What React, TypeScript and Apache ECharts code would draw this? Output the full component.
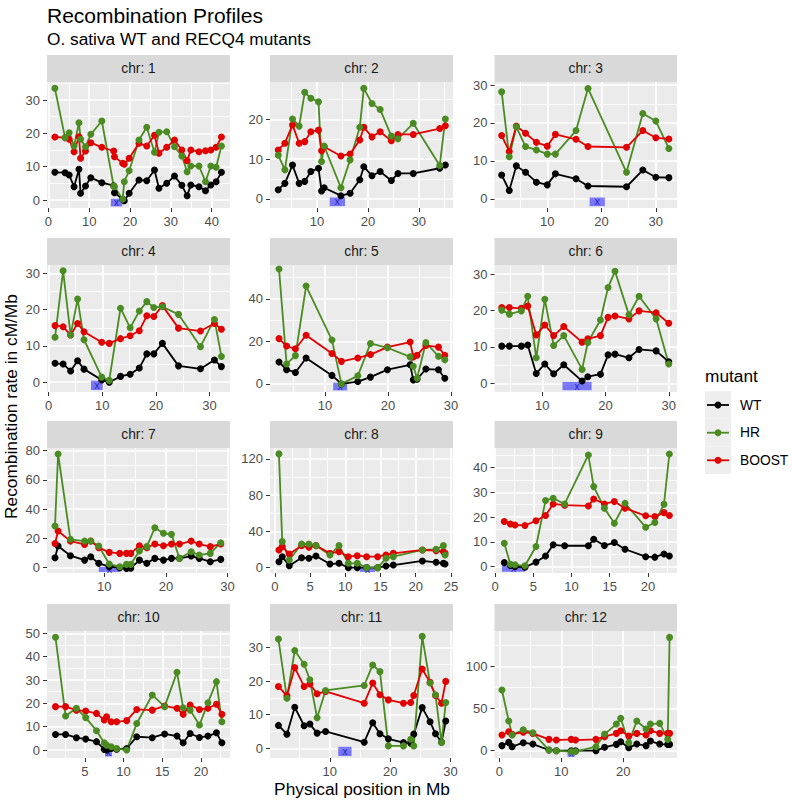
import React, { useEffect, useRef } from "react";
import * as echarts from "echarts";

// ---------- data ----------
const chromosomeLabels = ["chr: 1", "chr: 2", "chr: 3", "chr: 4", "chr: 5", "chr: 6", "chr: 7", "chr: 8", "chr: 9", "chr: 10", "chr: 11", "chr: 12"];
const mutants = ["WT", "HR", "BOOST"];

const chr1Pos = [1.6, 4.1, 5.1, 6.3, 7.5, 7.9, 9.1, 10.4, 13.1, 16.0, 16.2, 18.2, 18.6, 19.8, 22.2, 24.1, 26.0, 27.1, 29.0, 30.9, 32.7, 34.0, 34.9, 36.9, 38.5, 39.8, 41.1, 42.4];
const chr1WT = [8.3, 8.2, 7.5, 4.0, 9.2, 2.0, 4.2, 6.7, 5.2, 4.3, 2.2, 0.2, -0.2, 2.0, 6.0, 5.8, 9.0, 3.5, 5.0, 7.2, 4.4, 1.3, 4.5, 4.0, 2.8, 4.5, 5.5, 8.3];
const chr1HR = [33.5, 18.7, 20.2, 16.2, 23.2, 18.2, 16.0, 19.7, 23.7, 4.2, 4.0, 0.2, 5.5, 8.8, 18.0, 21.8, 14.3, 20.3, 20.5, 16.0, 13.2, 8.5, 10.2, 10.2, 5.5, 10.2, 9.8, 16.2];
const chr1BOOST = [18.9, 18.7, 18.2, 14.5, 19.0, 12.5, 14.7, 17.2, 15.8, 14.7, 13.0, 11.0, 10.7, 12.5, 17.0, 16.2, 19.4, 14.0, 15.8, 18.0, 15.0, 11.8, 15.0, 14.5, 14.8, 15.0, 15.8, 18.9];

const chr2Pos = [2.4, 3.7, 5.2, 6.5, 7.6, 8.8, 10.3, 10.9, 11.4, 14.7, 16.5, 18.4, 19.2, 20.8, 22.4, 24.6, 25.9, 28.9, 34.1, 35.2];
const chr2WT = [2.3, 3.9, 8.5, 3.9, 4.4, 6.9, 7.7, 2.0, 2.8, 0.8, 1.4, 4.8, 8.1, 5.8, 6.9, 4.6, 6.4, 6.4, 7.7, 8.5];
const chr2HR = [11.0, 7.3, 20.1, 18.3, 26.8, 25.3, 24.4, 9.4, 13.3, 2.8, 9.8, 18.0, 27.8, 24.0, 22.5, 15.8, 15.1, 19.0, 8.4, 20.1];
const chr2BOOST = [12.3, 14.0, 18.6, 14.0, 14.4, 16.9, 17.3, 12.1, 13.1, 10.8, 11.3, 14.8, 18.0, 15.6, 16.9, 14.6, 16.2, 16.2, 17.7, 18.4];

const chr3Pos = [1.6, 3.0, 4.3, 6.0, 8.0, 10.0, 11.5, 15.3, 17.5, 24.6, 27.6, 30.0, 32.4];
const chr3WT = [6.3, 2.2, 8.7, 7.0, 4.4, 3.7, 6.6, 5.3, 3.4, 3.2, 7.6, 5.7, 5.6];
const chr3HR = [28.2, 11.1, 19.0, 13.8, 12.9, 11.8, 11.8, 18.0, 29.1, 7.0, 22.5, 20.5, 13.3];
const chr3BOOST = [16.7, 12.5, 19.2, 17.3, 14.9, 13.9, 17.0, 15.7, 13.8, 13.6, 18.0, 16.1, 15.8];

const chr4Pos = [1.2, 2.7, 4.1, 5.4, 6.6, 9.9, 11.3, 13.4, 15.2, 16.9, 18.3, 19.6, 21.2, 24.2, 28.3, 30.9, 32.2];
const chr4WT = [5.2, 5.0, 3.1, 5.9, 3.6, 0.6, 0.0, 1.6, 2.2, 3.9, 7.8, 7.8, 10.7, 4.5, 3.7, 6.1, 4.3];
const chr4HR = [12.4, 30.7, 13.0, 22.9, 11.7, 1.4, 0.5, 20.4, 15.0, 19.6, 22.2, 20.6, 20.8, 18.7, 9.8, 17.3, 7.1];
const chr4BOOST = [15.6, 15.3, 13.0, 16.2, 13.9, 11.0, 10.7, 12.0, 12.8, 14.2, 18.3, 18.1, 21.1, 14.9, 14.1, 16.2, 14.6];

const chr5Pos = [2.7, 3.9, 5.3, 7.0, 11.1, 12.6, 15.2, 17.2, 19.9, 23.5, 24.0, 24.6, 26.0, 28.0, 29.0];
const chr5WT = [10.3, 6.7, 5.4, 12.2, 4.0, 0.0, 1.1, 3.2, 6.7, 9.0, 1.9, 2.2, 7.0, 6.7, 2.7];
const chr5HR = [54.0, 9.4, 13.3, 46.0, 20.6, 0.0, 3.8, 19.0, 17.0, 12.7, 8.3, 2.7, 19.4, 13.0, 11.4];
const chr5BOOST = [21.3, 17.8, 16.5, 22.9, 14.3, 10.6, 12.2, 13.8, 17.3, 19.7, 12.7, 13.5, 18.1, 17.3, 13.5];

const chr6Pos = [3.6, 4.8, 6.7, 7.7, 9.05, 10.4, 11.8, 13.4, 16.3, 17.2, 19.2, 20.4, 21.5, 23.7, 25.3, 28.0, 30.0];
const chr6WT = [10.2, 10.2, 10.2, 10.5, 2.7, 5.3, 2.6, 5.1, 0.6, 1.8, 2.5, 7.8, 8.0, 7.0, 9.3, 8.9, 5.9];
const chr6HR = [20.1, 19.0, 19.9, 23.9, 7.0, 23.1, 10.4, 13.1, 3.8, 11.2, 17.4, 26.3, 30.8, 18.8, 23.9, 17.7, 5.3];
const chr6BOOST = [20.8, 20.8, 20.6, 21.2, 13.3, 16.0, 13.1, 15.6, 11.3, 12.2, 13.1, 18.1, 18.5, 17.7, 19.9, 19.4, 16.5];

const chr7Pos = [2.0, 2.5, 4.5, 6.8, 7.8, 9.1, 10.8, 12.5, 13.6, 14.3, 15.7, 16.9, 18.2, 19.6, 20.9, 22.2, 24.1, 25.4, 27.2, 28.9];
const chr7WT = [6.8, 14.8, 8.2, 5.2, 7.5, 3.0, 0.7, 0.0, -0.5, -0.3, 5.2, 3.0, 6.4, 5.2, 6.4, 6.4, 8.0, 6.4, 4.1, 5.7];
const chr7HR = [28.5, 77.7, 19.4, 18.2, 18.2, 14.8, 2.5, 0.7, 2.3, 2.3, 11.4, 14.4, 27.3, 23.5, 22.8, 6.4, 10.9, 8.7, 9.8, 17.1];
const chr7BOOST = [16.6, 25.1, 18.2, 15.9, 18.2, 13.7, 10.5, 9.8, 9.8, 9.8, 15.0, 13.7, 16.2, 15.0, 16.2, 16.2, 18.2, 16.2, 14.4, 16.2];

const chr8Pos = [0.57, 1.04, 2.04, 3.79, 4.83, 5.83, 7.82, 9.1, 10.43, 11.7, 13.03, 14.6, 15.78, 16.82, 20.95, 22.9, 23.93, 24.17];
const chr8WT = [6.6, 12.1, 2.2, 11.0, 10.3, 12.9, 4.0, 4.8, 0.0, 0.0, 0.0, 0.0, 1.8, 2.9, 7.4, 5.9, 4.8, 4.0];
const chr8HR = [125.5, 28.7, 8.5, 26.1, 26.1, 24.3, 14.0, 24.3, 4.8, 4.8, 0.0, 0.0, 10.3, 12.1, 19.5, 20.2, 24.3, 14.0];
const chr8BOOST = [19.5, 23.2, 15.1, 24.3, 22.5, 24.3, 15.8, 17.7, 12.1, 13.2, 12.1, 12.1, 14.0, 15.8, 19.5, 18.8, 17.7, 15.8];

const chr9Pos = [1.2, 2.0, 2.6, 3.9, 5.35, 6.6, 7.6, 9.1, 12.2, 12.9, 14.3, 15.6, 17.0, 19.7, 20.9, 22.1, 22.8];
const chr9WT = [1.6, 0.4, 0.0, -0.3, 1.8, 4.3, 8.8, 8.4, 8.4, 11.0, 8.5, 9.7, 7.0, 4.0, 3.8, 5.1, 4.3];
const chr9HR = [9.4, 0.9, 0.7, 0.3, 8.1, 26.7, 27.6, 25.3, 45.1, 32.3, 23.6, 17.5, 25.6, 15.9, 17.8, 25.2, 45.5];
const chr9BOOST = [18.2, 17.2, 16.8, 16.6, 18.5, 20.6, 25.3, 24.8, 24.5, 27.3, 25.3, 26.3, 23.6, 20.5, 20.2, 21.8, 20.6];

const chr10Pos = [1.2, 2.5, 3.9, 5.1, 6.5, 7.5, 7.8, 8.4, 9.1, 10.4, 11.7, 13.7, 15.3, 16.9, 17.7, 18.6, 19.8, 20.9, 22.0, 22.7];
const chr10WT = [6.7, 6.7, 5.3, 4.7, 3.6, 0.3, 0.0, 0.7, 0.4, 0.7, 5.7, 5.3, 6.9, 6.0, 3.1, 7.1, 5.4, 6.0, 7.4, 3.1];
const chr10HR = [48.3, 14.6, 17.9, 13.9, 8.3, 3.1, 2.1, 1.4, 0.7, 0.0, 11.4, 23.6, 18.6, 33.3, 18.1, 17.1, 10.7, 20.3, 29.3, 12.1];
const chr10BOOST = [18.6, 18.6, 17.1, 16.7, 15.7, 12.9, 14.3, 12.1, 12.1, 12.6, 17.4, 17.1, 18.9, 17.9, 15.3, 19.3, 17.4, 17.9, 19.6, 15.3];

const chr11Pos = [1.5, 2.9, 4.2, 5.75, 6.7, 7.9, 9.3, 15.7, 17.1, 18.3, 19.7, 22.2, 23.4, 23.9, 25.3, 26.6, 27.5, 28.5, 29.2];
const chr11WT = [6.8, 4.2, 12.2, 6.7, 7.2, 4.5, 5.0, 1.8, 7.6, 4.3, 2.8, 1.7, 1.5, 4.2, 12.1, 7.9, 4.3, 1.8, 8.1];
const chr11HR = [32.5, 14.9, 29.1, 25.0, 20.4, 9.1, 17.2, 18.7, 24.8, 22.8, 0.7, 0.7, 2.7, 0.7, 33.3, 19.4, 15.9, 1.7, 13.6];
const chr11BOOST = [18.4, 15.6, 24.0, 18.4, 19.1, 16.2, 16.9, 13.4, 19.4, 15.9, 14.4, 13.4, 13.6, 15.7, 23.6, 19.6, 15.7, 13.4, 19.9];

const chr12Pos = [0.4, 1.5, 2.05, 3.85, 5.4, 8.0, 9.2, 11.6, 12.3, 15.6, 17.0, 18.9, 19.6, 20.9, 22.2, 23.7, 24.4, 25.9, 27.2, 27.5];
const chr12WT = [6.0, 9.9, 4.8, 9.5, 7.9, 0.8, 0.0, 0.0, 0.0, 0.0, 4.0, 7.5, 10.7, 3.6, 7.9, 6.0, 11.5, 7.9, 7.5, 7.5];
const chr12HR = [72.2, 35.3, 18.7, 25.0, 21.4, 0.8, 0.0, -1.0, -1.0, 4.8, 19.8, 31.7, 38.5, 9.5, 35.3, 25.8, 31.7, 32.5, 13.5, 134.9];
const chr12BOOST = [18.7, 22.6, 19.4, 22.0, 20.6, 13.5, 12.7, 13.5, 12.7, 13.5, 16.7, 20.6, 23.8, 17.5, 20.6, 18.7, 23.8, 20.6, 20.6, 20.6];

// centromere spans (Mb)
const centromereStart = [15.3, 12.5, 17.8, 7.9, 11.3, 13.2, 9.1, 12.1, 0.9, 7.6, 11.4, 11.0];
const centromereEnd = [18.1, 15.5, 20.6, 10.1, 13.5, 17.8, 12.6, 14.2, 3.9, 8.5, 13.6, 12.2];

// axes (free scales per facet)
const xLimits = [[-0.33, 44.5], [0.78, 36.7], [0.28, 33.9], [-0.3, 33.8], [1.27, 30.3], [2.45, 31.3], [0.7, 30.4], [-0.7, 25.3], [-0.08, 23.8], [0.1, 23.75], [0.1, 30.4], [-0.8, 28.7]];
const yLimits = [[-2.4, 35.4], [-2.3, 29.4], [-2.4, 30.8], [-2.7, 32.3], [-3.8, 55.9], [-2.4, 32.5], [-3.6, 81.8], [-5.9, 132], [-2.6, 47.9], [-3.4, 51], [-2.9, 34.9], [-8.7, 142.5]];
const xMajorTicks = [[0, 10, 20, 30, 40], [10, 20, 30], [10, 20, 30], [0, 10, 20, 30], [10, 20, 30], [10, 20, 30], [10, 20, 30], [0, 5, 10, 15, 20, 25], [0, 5, 10, 15, 20], [5, 10, 15, 20], [10, 20, 30], [0, 10, 20]];
const xMinorTicks = [[5, 15, 25, 35], [5, 15, 25, 35], [5, 15, 25], [5, 15, 25], [5, 15, 25], [5, 15, 25], [5, 15, 25], [2.5, 7.5, 12.5, 17.5, 22.5], [2.5, 7.5, 12.5, 17.5, 22.5], [2.5, 7.5, 12.5, 17.5, 22.5], [5, 15, 25], [5, 15, 25]];
const yMajorTicks = [[0, 10, 20, 30], [0, 10, 20], [0, 10, 20, 30], [0, 10, 20, 30], [0, 20, 40], [0, 10, 20, 30], [0, 20, 40, 60, 80], [0, 40, 80, 120], [0, 10, 20, 30, 40], [0, 10, 20, 30, 40, 50], [0, 10, 20, 30], [0, 50, 100]];
const yMinorTicks = [[5, 15, 25, 35], [5, 15, 25], [5, 15, 25], [5, 15, 25], [10, 30, 50], [5, 15, 25], [10, 30, 50, 70], [20, 60, 100], [5, 15, 25, 35, 45], [5, 15, 25, 35, 45], [5, 15, 25], [25, 75, 125]];

// ---------- styles / layout ----------
const FONT = "'Liberation Sans', Arial, Helvetica, sans-serif";
const mutantColors: Record<string, string> = { WT: "#000000", HR: "#4A8B22", BOOST: "#E00000" };
const colLeft = [47, 270, 494.5];
const colWidth = [183, 183, 182.5];
const rowTop = [82, 265, 448, 631];
const rowHeight = [126, 127, 125, 127];
const STRIP_H = 27;

const panelData = [
  [chr1Pos, chr1WT, chr1HR, chr1BOOST],
  [chr2Pos, chr2WT, chr2HR, chr2BOOST],
  [chr3Pos, chr3WT, chr3HR, chr3BOOST],
  [chr4Pos, chr4WT, chr4HR, chr4BOOST],
  [chr5Pos, chr5WT, chr5HR, chr5BOOST],
  [chr6Pos, chr6WT, chr6HR, chr6BOOST],
  [chr7Pos, chr7WT, chr7HR, chr7BOOST],
  [chr8Pos, chr8WT, chr8HR, chr8BOOST],
  [chr9Pos, chr9WT, chr9HR, chr9BOOST],
  [chr10Pos, chr10WT, chr10HR, chr10BOOST],
  [chr11Pos, chr11WT, chr11HR, chr11BOOST],
  [chr12Pos, chr12WT, chr12HR, chr12BOOST],
];

function buildOption() {
  const grids: any[] = [];
  const xAxes: any[] = [];
  const yAxes: any[] = [];
  const series: any[] = [];
  const graphics: any[] = [];

  panelData.forEach((p, i) => {
    const r = Math.floor(i / 3);
    const c = i % 3;
    const left = colLeft[c];
    const top = rowTop[r];
    const width = colWidth[c];
    const height = rowHeight[r];
    grids.push({ left, top, width, height, show: true, backgroundColor: "#EBEBEB", borderWidth: 0, containLabel: false, outerBoundsMode: "none" });

    const [x0, x1] = xLimits[i];
    const [y0, y1] = yLimits[i];
    const labelStyle = { color: "#4D4D4D", fontSize: 13, fontFamily: FONT };
    xAxes.push({
      type: "value", gridIndex: i, position: "bottom", min: x0, max: x1,
      axisLine: { show: false, onZero: false },
      axisTick: { show: true, length: 4, customValues: xMajorTicks[i], lineStyle: { color: "#333333", width: 1 } },
      axisLabel: { show: true, customValues: xMajorTicks[i], margin: 7, ...labelStyle },
      splitLine: { show: true, lineStyle: { color: "#FFFFFF", width: 1.6 } },
    });
    xAxes.push({
      type: "value", gridIndex: i, position: "top", min: x0, max: x1,
      axisLine: { show: false, onZero: false },
      axisTick: { show: false, customValues: xMinorTicks[i] },
      axisLabel: { show: false },
      splitLine: { show: true, lineStyle: { color: "#FFFFFF", width: 0.8 } },
    });
    yAxes.push({
      type: "value", gridIndex: i, position: "left", min: y0, max: y1,
      axisLine: { show: false, onZero: false },
      axisTick: { show: true, length: 4, customValues: yMajorTicks[i], lineStyle: { color: "#333333", width: 1 } },
      axisLabel: { show: true, customValues: yMajorTicks[i], margin: 7, ...labelStyle },
      splitLine: { show: true, lineStyle: { color: "#FFFFFF", width: 1.6 } },
    });
    yAxes.push({
      type: "value", gridIndex: i, position: "right", min: y0, max: y1,
      axisLine: { show: false, onZero: false },
      axisTick: { show: false, customValues: yMinorTicks[i] },
      axisLabel: { show: false },
      splitLine: { show: true, lineStyle: { color: "#FFFFFF", width: 0.8 } },
    });

    const pos = p[0];
    const values: Record<string, number[]> = { WT: p[1], HR: p[2], BOOST: p[3] };
    const lineOrder = ["WT", "HR", "BOOST"];
    lineOrder.forEach((m) => {
      const s: any = {
        type: "line", name: m, xAxisIndex: 2 * i, yAxisIndex: 2 * i,
        data: pos.map((x, k) => [x, values[m][k]]),
        showSymbol: false, symbol: "none", silent: true,
        lineStyle: { color: mutantColors[m], width: 1.8 },
        itemStyle: { color: mutantColors[m] }, z: 2,
      };
      if (m === "WT") {
        s.markArea = {
          silent: true,
          itemStyle: { color: "rgba(0,0,255,0.5)" },
          label: { show: true, position: "inside", formatter: "x", color: "#2424B8", fontSize: 10, fontFamily: FONT },
          data: [[{ xAxis: centromereStart[i], yAxis: y0 * 0.8 }, { xAxis: centromereEnd[i], yAxis: -y0 * 0.15 }]],
        };
      }
      series.push(s);
    });
    ["WT", "BOOST", "HR"].forEach((m) => {
      series.push({
        type: "scatter", name: m, xAxisIndex: 2 * i, yAxisIndex: 2 * i,
        data: pos.map((x, k) => [x, values[m][k]]),
        symbol: "circle", symbolSize: 7, silent: true,
        itemStyle: { color: mutantColors[m], opacity: 1 }, z: 3,
      });
    });

    // facet strip
    graphics.push({ type: "rect", shape: { x: left, y: top - STRIP_H, width, height: STRIP_H }, style: { fill: "#D9D9D9" }, silent: true });
    graphics.push({
      type: "text", x: left + width / 2, y: top - STRIP_H / 2, silent: true,
      style: { text: chromosomeLabels[i], fill: "#1A1A1A", fontSize: 13.8, fontFamily: FONT, align: "center", verticalAlign: "middle" },
    });
  });

  // titles
  graphics.push({ type: "text", x: 47, y: 15, silent: true, style: { text: "Recombination Profiles", fill: "#000", fontSize: 21, fontFamily: FONT, align: "left", verticalAlign: "middle" } });
  graphics.push({ type: "text", x: 47, y: 38.5, silent: true, style: { text: "O. sativa WT and RECQ4 mutants", fill: "#000", fontSize: 17.3, fontFamily: FONT, align: "left", verticalAlign: "middle" } });
  graphics.push({ type: "text", x: 362, y: 789, silent: true, style: { text: "Physical position in Mb", fill: "#000", fontSize: 17.3, fontFamily: FONT, align: "center", verticalAlign: "middle" } });
  graphics.push({ type: "text", x: 10.7, y: 406.5, rotation: Math.PI / 2, silent: true, style: { text: "Recombination rate in cM/Mb", fill: "#000", fontSize: 17.3, fontFamily: FONT, align: "center", verticalAlign: "middle" } });

  // legend
  graphics.push({ type: "text", x: 705, y: 375.5, silent: true, style: { text: "mutant", fill: "#000", fontSize: 17.3, fontFamily: FONT, align: "left", verticalAlign: "middle" } });
  const keyCenters = [405, 432.7, 460.3];
  mutants.forEach((m, k) => {
    const cy = keyCenters[k];
    graphics.push({ type: "rect", shape: { x: 705, y: cy - 13.7, width: 26, height: 27.4 }, style: { fill: "#EEEEEE" }, silent: true });
    graphics.push({ type: "line", shape: { x1: 707, y1: cy, x2: 729, y2: cy }, style: { stroke: mutantColors[m], lineWidth: 1.8 }, silent: true });
    graphics.push({ type: "circle", shape: { cx: 718, cy, r: 3.5 }, style: { fill: mutantColors[m] }, silent: true });
    graphics.push({ type: "text", x: 740, y: cy, silent: true, style: { text: m, fill: "#000", fontSize: 13.8, fontFamily: FONT, align: "left", verticalAlign: "middle" } });
  });

  return {
    animation: false,
    backgroundColor: "#FFFFFF",
    textStyle: { fontFamily: FONT },
    grid: grids,
    xAxis: xAxes,
    yAxis: yAxes,
    series,
    graphic: graphics,
  };
}

export default function App() {
  const ref = useRef<HTMLDivElement>(null);
  useEffect(() => {
    if (!ref.current) return;
    const chart = echarts.init(ref.current, null, { renderer: "svg" });
    chart.setOption(buildOption() as any);
    return () => chart.dispose();
  }, []);
  return <div ref={ref} style={{ position: "fixed", left: 0, top: 0, width: 792, height: 801, background: "#fff" }} />;
}
